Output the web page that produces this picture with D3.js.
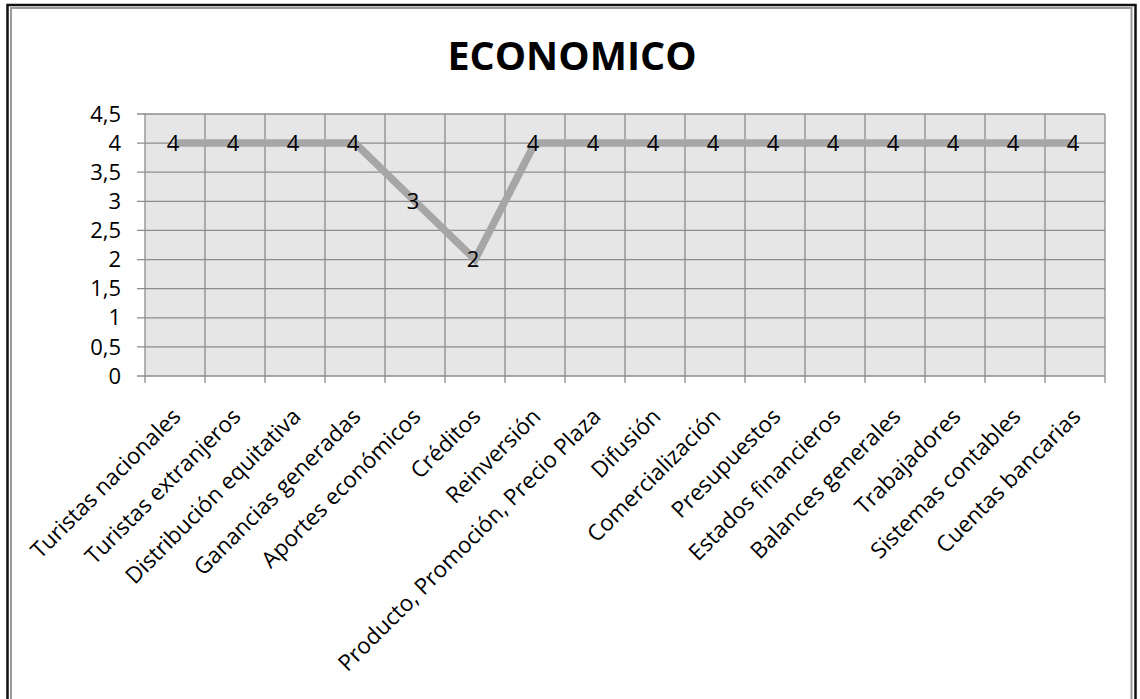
<!DOCTYPE html>
<html>
<head>
<meta charset="utf-8">
<script src="https://cdn.jsdelivr.net/npm/d3@7"></script>
<style>
  body { margin: 0; background: #fff; }
  text { font-family: "Open Sans", "Noto Sans", sans-serif; fill: #000; }
</style>
</head>
<body>
<div id="G"></div>
<script>
var categories = ["Turistas nacionales", "Turistas extranjeros", "Distribución equitativa",
  "Ganancias generadas", "Aportes económicos", "Créditos", "Reinversión",
  "Producto, Promoción, Precio Plaza", "Difusión", "Comercialización", "Presupuestos",
  "Estados financieros", "Balances generales", "Trabajadores", "Sistemas contables",
  "Cuentas bancarias"];
var values = [4, 4, 4, 4, 3, 2, 4, 4, 4, 4, 4, 4, 4, 4, 4, 4];
var yTicks = [0, 0.5, 1, 1.5, 2, 2.5, 3, 3.5, 4, 4.5];
var title = "ECONOMICO";

var W = 1140, H = 699;
var Border = { top: 114, right: 35, bottom: 323, left: 145 },
  width = W - Border.left - Border.right,
  height = H - Border.top - Border.bottom;

var svg = d3.select("#G")
  .append("svg")
  .attr("width", W)
  .attr("height", H);

// frame
svg.append("rect").attr("x", 7.5).attr("y", 5).attr("width", 1128).attr("height", 700)
  .attr("fill", "none").attr("stroke", "#111").attr("stroke-width", 2.5);
svg.append("rect").attr("x", 11).attr("y", 8).attr("width", 1120.5).attr("height", 700)
  .attr("fill", "none").attr("stroke", "#999").attr("stroke-width", 2);

svg.append("text")
  .attr("x", 572).attr("y", 70)
  .attr("text-anchor", "middle")
  .style("font-size", "39.5px").style("font-weight", "bold")
  .text(title);

var g = svg.append("g")
  .attr("transform", "translate(" + Border.left + "," + Border.top + ")");

var x = d3.scaleBand().domain(categories).range([0, width]);
var y = d3.scaleLinear().domain([0, 4.5]).range([height, 0]);

g.append("rect").attr("width", width).attr("height", height).attr("fill", "#e6e6e6");

// grid
g.selectAll(".hg").data(yTicks).enter().append("line")
  .attr("x1", -8).attr("x2", width)
  .attr("y1", d => y(d)).attr("y2", d => y(d))
  .attr("stroke", "#8c8c8c").attr("stroke-width", 1.3);
g.selectAll(".vg").data(d3.range(categories.length + 1)).enter().append("line")
  .attr("x1", d => d * x.bandwidth()).attr("x2", d => d * x.bandwidth())
  .attr("y1", 0).attr("y2", height + 7)
  .attr("stroke", "#8c8c8c").attr("stroke-width", 1.3);

// y labels
g.selectAll(".yl").data(yTicks).enter().append("text")
  .attr("x", -24).attr("y", d => y(d)).attr("dy", "0.35em")
  .attr("text-anchor", "end")
  .style("font-size", "22px")
  .text(d => String(d).replace(".", ","));

// x labels
g.selectAll(".xl").data(categories).enter().append("text")
  .attr("text-anchor", "end")
  .attr("transform", d => "translate(" + (x(d) + x.bandwidth() / 2 + 7) + "," + (height + 42) + ") rotate(-45)")
  .style("font-size", "22.5px")
  .text(d => d);

// line
g.append("path")
  .datum(values)
  .attr("fill", "none")
  .attr("stroke", "#a6a6a6")
  .attr("stroke-width", 7.5)
  .attr("d", d3.line()
    .x((d, i) => x(categories[i]) + x.bandwidth() / 2)
    .y(d => y(d)));

// data labels
g.selectAll(".dl").data(values).enter().append("text")
  .attr("x", (d, i) => x(categories[i]) + x.bandwidth() / 2 - 2)
  .attr("y", d => y(d)).attr("dy", "0.36em")
  .attr("text-anchor", "middle")
  .style("font-size", "22px")
  .text(d => d);
</script>
</body>
</html>
